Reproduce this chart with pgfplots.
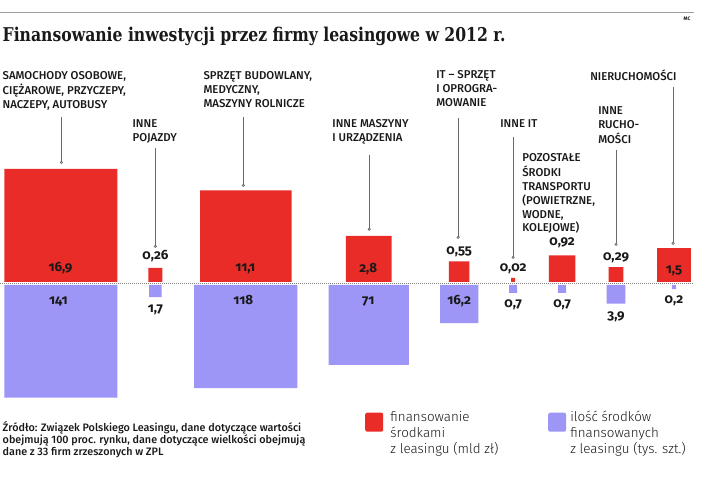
\documentclass[border=0pt]{standalone}
\usepackage{pgfplots}
\pgfplotsset{compat=1.18}
\usepackage{pgfplotstable}
\usepackage{fontspec}
\usetikzlibrary{arrows.meta}
\setmainfont{Fira Sans}
\newfontfamily\titlefont{DejaVu Serif Condensed}
\newfontfamily\numfont[Numbers=OldStyle]{Fira Sans}
\newfontfamily\medfont{Fira Sans Medium}
\newfontfamily\lightfont{Fira Sans Light}

\definecolor{finred}{RGB}{233,44,40}
\definecolor{ilosc}{RGB}{157,150,246}
\definecolor{ink}{RGB}{25,25,25}
\definecolor{leader}{RGB}{105,105,105}

% square mark with slightly rounded corners; mark size = half the side
\pgfdeclareplotmark{rsquare}{%
  \pgfmathsetlengthmacro\rc{min(1.5pt,0.35*\pgfplotmarksize)}%
  \pgfsetcornersarced{\pgfpoint{\rc}{\rc}}%
  \pgfpathmoveto{\pgfpoint{-\pgfplotmarksize}{0pt}}%
  \pgfpathlineto{\pgfpoint{-\pgfplotmarksize}{\pgfplotmarksize}}%
  \pgfpathlineto{\pgfpoint{\pgfplotmarksize}{\pgfplotmarksize}}%
  \pgfpathlineto{\pgfpoint{\pgfplotmarksize}{-\pgfplotmarksize}}%
  \pgfpathlineto{\pgfpoint{-\pgfplotmarksize}{-\pgfplotmarksize}}%
  \pgfpathclose
  \pgfusepathqfill
  \pgfsetcornersarced{\pgfpointorigin}%
}

% x: position of the category; fin: financing (bn PLN); ilosc: assets financed (thousand units)
\pgfplotstableread{
x     fin   ilosc
60.5  16.9  141
155   0.26  1.7
245.5 11.1  118
368.5 2.8   71
459   0.55  16.2
513   0.02  0.7
562   0.92  0.7
616   0.29  3.9
674   1.5   0.2
}\leasing

\newcommand\cat[1]{{\medfont\fontsize{11.4}{13.8}\selectfont\begin{tabular}[t]{@{}l@{}}#1\end{tabular}}}
\newcommand\val[1]{{\numfont\bfseries\fontsize{13.4}{13.4}\selectfont #1}}

\begin{document}
\begin{tikzpicture}
\begin{axis}[
  set layers,
  x=1pt, y=1pt, y dir=reverse,
  xmin=0, xmax=714, ymin=0, ymax=484,
  hide axis, clip=false, scale only axis,
]
\begin{pgfonlayer}{axis background}
\fill[white] (axis cs:0,0) rectangle (axis cs:714,484);
\end{pgfonlayer}

% red squares: area proportional to financing, standing on the baseline
\addplot[scatter, only marks, mark=rsquare,
  scatter/use mapped color={draw=none, fill=finred},
  visualization depends on={sqrt(\thisrow{fin})*13.745 \as \halfside},
  scatter/@pre marker code/.append style={/tikz/mark size=\halfside},
] table[x=x, y expr={282-sqrt(\thisrow{fin})*13.745}] {\leasing};

% purple squares: area proportional to the number of assets, hanging below
\addplot[scatter, only marks, mark=rsquare,
  scatter/use mapped color={draw=none, fill=ilosc},
  visualization depends on={sqrt(\thisrow{ilosc})*4.758 \as \halfside},
  scatter/@pre marker code/.append style={/tikz/mark size=\halfside},
] table[x=x, y expr={285+sqrt(\thisrow{ilosc})*4.758}] {\leasing};

\begin{pgfonlayer}{axis foreground}
% frame elements
\draw[gray!75, line width=1pt] (axis cs:0,13) -- (axis cs:694,13);
\node[anchor=base, inner sep=0, text=ink, font=\bfseries\fontsize{5}{5}\selectfont] at (axis cs:687,21) {MC};
\node[anchor=base west, inner sep=0, text=ink, font=\titlefont\bfseries\fontsize{19}{19}\selectfont] at (axis cs:2,42)
  {\scalebox{0.915}[1]{Finansowanie inwestycji przez firmy leasingowe w 2012 r.}};
\draw[gray, line width=0.9pt, dash pattern=on 0.9pt off 1.1pt] (axis cs:0,283.5) -- (axis cs:694,283.5);

% leader lines
\begin{scope}[leader, line width=0.7pt, -{Circle[open, length=3pt, width=3pt]}]
\draw (axis cs:61,117) -- (axis cs:61,164);
\draw (axis cs:155,148) -- (axis cs:155,248);
\draw (axis cs:243,117) -- (axis cs:243,187);
\draw (axis cs:369,155) -- (axis cs:369,231);
\draw (axis cs:458,118) -- (axis cs:458,239);
\draw (axis cs:513,137) -- (axis cs:513,259);
\draw (axis cs:616,150) -- (axis cs:616,246);
\draw (axis cs:673,87) -- (axis cs:673,245);
\end{scope}

% category labels
\begin{scope}[every node/.style={anchor=base west, inner sep=0, text=ink}]
\node at (axis cs:2,80)   {\cat{SAMOCHODY OSOBOWE,\\CIĘŻAROWE, PRZYCZEPY,\\NACZEPY, AUTOBUSY}};
\node at (axis cs:132,128){\cat{INNE\\POJAZDY}};
\node at (axis cs:203,80) {\cat{SPRZĘT BUDOWLANY,\\MEDYCZNY,\\MASZYNY ROLNICZE}};
\node at (axis cs:332,128){\cat{INNE MASZYNY\\I URZĄDZENIA}};
\node at (axis cs:436,79) {\cat{IT – SPRZĘT\\I OPROGRA-\\MOWANIE}};
\node at (axis cs:500,128){\cat{INNE IT}};
\node at (axis cs:522,162){\cat{POZOSTAŁE\\ŚRODKI\\TRANSPORTU\\(POWIETRZNE,\\WODNE,\\KOLEJOWE)}};
\node at (axis cs:598,115){\cat{INNE\\RUCHO-\\MOŚCI}};
\node at (axis cs:590,81) {\cat{NIERUCHOMOŚCI}};
\end{scope}

% values
\begin{scope}[every node/.style={anchor=base, inner sep=0, text=ink}]
\node at (axis cs:60,272)  {\val{16,9}};
\node at (axis cs:245,272) {\val{11,1}};
\node at (axis cs:368,273) {\val{2,8}};
\node at (axis cs:674,274) {\val{1,5}};
\node at (axis cs:155,260) {\val{0,26}};
\node at (axis cs:459,255) {\val{0,55}};
\node at (axis cs:513,272) {\val{0,02}};
\node at (axis cs:562,246) {\val{0,92}};
\node at (axis cs:616,261) {\val{0,29}};
\node at (axis cs:58,305)  {\val{141}};
\node at (axis cs:243,305) {\val{118}};
\node at (axis cs:368,305) {\val{71}};
\node at (axis cs:459,305) {\val{16,2}};
\node at (axis cs:155,313) {\val{1,7}};
\node at (axis cs:513,308) {\val{0,7}};
\node at (axis cs:562,308) {\val{0,7}};
\node at (axis cs:616,320) {\val{3,9}};
\node at (axis cs:674,304) {\val{0,2}};
\end{scope}

% source note
\node[anchor=base west, inner sep=0, text=ink,
  font=\medfont\fontsize{10.8}{11.5}\selectfont] at (axis cs:2,432)
  {\begin{tabular}[t]{@{}l@{}}Źródło: Związek Polskiego Leasingu, dane dotyczące wartości\\
   obejmują 100 proc. rynku, dane dotyczące wielkości obejmują\\
   dane z 33 firm zrzeszonych w ZPL\end{tabular}};

% legend
\fill[finred, rounded corners=2pt] (axis cs:365,413) rectangle (axis cs:383,432);
\fill[ilosc, rounded corners=2pt] (axis cs:548,413) rectangle (axis cs:566,432);
\node[anchor=base west, inner sep=0, text=ink, font=\lightfont\fontsize{13.4}{16}\selectfont] at (axis cs:390,422)
  {\begin{tabular}[t]{@{}l@{}}finansowanie\\środkami\\z leasingu (mld zł)\end{tabular}};
\node[anchor=base west, inner sep=0, text=ink, font=\lightfont\fontsize{13.4}{16}\selectfont] at (axis cs:570,422)
  {\begin{tabular}[t]{@{}l@{}}ilość środków\\finansowanych\\z leasingu (tys. szt.)\end{tabular}};
\end{pgfonlayer}
\end{axis}
\end{tikzpicture}
\end{document}
